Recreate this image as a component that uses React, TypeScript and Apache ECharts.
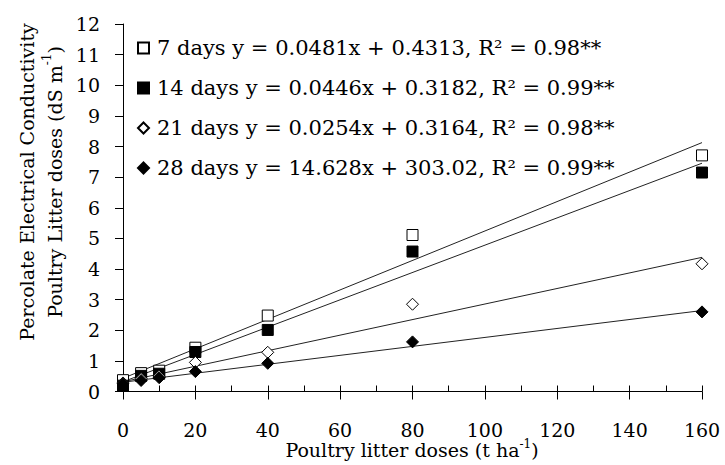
import React, { useEffect, useRef } from "react";
import * as echarts from "echarts";

const xDoses = [0, 5, 10, 20, 40, 80, 160];
const days7 = [0.37, 0.6, 0.68, 1.43, 2.48, 5.11, 7.71];
const days14 = [0.19, 0.51, 0.58, 1.29, 2.01, 4.57, 7.15];
const days21 = [0.28, 0.42, 0.5, 0.95, 1.28, 2.85, 4.17];
const days28 = [0.25, 0.36, 0.45, 0.65, 0.92, 1.62, 2.6];

const seriesNames = [
  "7 days y = 0.0481x + 0.4313, R² = 0.98**",
  "14 days y = 0.0446x + 0.3182, R² = 0.99**",
  "21 days y = 0.0254x + 0.3164, R² = 0.98**",
  "28 days y = 14.628x + 303.02, R² = 0.99**",
];
// trend line coefficients (in dS m-1; 28 days equation printed in uS cm-1)
const slopes = [0.0481, 0.0446, 0.0254, 0.014628];
const intercepts = [0.4313, 0.3182, 0.3164, 0.30302];
const xTicks = [0, 20, 40, 60, 80, 100, 120, 140, 160];
const yTicks = [0, 1, 2, 3, 4, 5, 6, 7, 8, 9, 10, 11, 12];

const FONT = "DejaVu Serif";

export default function App() {
  const ref = useRef<HTMLDivElement>(null);
  useEffect(() => {
    if (!ref.current) return;
    const chart = echarts.init(ref.current, null, { renderer: "svg" });
    const allData = [days7, days14, days21, days28];
    const symbols = ["rect", "rect", "diamond", "diamond"];
    const fills = ["#fff", "#000", "#fff", "#000"];
    const xMin = xTicks[0];
    const xMax = xTicks[xTicks.length - 1];

    const scatterSeries = allData.map((arr, i) => ({
      name: seriesNames[i],
      type: "scatter",
      symbol: symbols[i],
      symbolSize: i < 2 ? 11 : 12,
      itemStyle: { color: fills[i], borderColor: "#000", borderWidth: 1, opacity: 1 },
      data: arr.map((v, j) => [xDoses[j], v]),
      z: 3,
    }));
    const lineSeries = slopes.map((s, i) => ({
      type: "line",
      symbol: "none",
      silent: true,
      lineStyle: { color: "#222", width: 1 },
      data: [
        [xMin, intercepts[i] + s * xMin],
        [xMax, intercepts[i] + s * xMax],
      ],
      z: 2,
    }));

    chart.setOption({
      animation: false,
      backgroundColor: "#fff",
      grid: { left: 123, right: 23, top: 24, bottom: 73.5 },
      legend: {
        orient: "vertical",
        left: 137,
        top: 34,
        padding: 0,
        itemGap: 12,
        itemWidth: 11,
        itemHeight: 11,
        data: seriesNames,
        selectedMode: false,
        textStyle: { fontFamily: FONT, fontSize: 21, color: "#000", lineHeight: 28, padding: [0, 0, 0, 3] },
      },
      xAxis: [
        {
          type: "value",
          min: xMin,
          max: xMax,
          interval: 20,
          axisLine: { show: true, onZero: false, lineStyle: { color: "#000", width: 1 } },
          axisTick: { show: true, length: 8, lineStyle: { color: "#000", width: 1 } },
          axisLabel: { fontFamily: FONT, fontSize: 19, color: "#000", margin: 29 },
          splitLine: { show: false },
        },
        {
          type: "value",
          min: xMin,
          max: xMax,
          interval: 10,
          position: "bottom",
          axisLine: { show: false },
          axisTick: { show: true, inside: true, length: 6, lineStyle: { color: "#000", width: 1 } },
          axisLabel: { show: false },
          splitLine: { show: false },
        },
      ],
      yAxis: {
        type: "value",
        min: yTicks[0],
        max: yTicks[yTicks.length - 1],
        interval: 1,
        axisLine: { show: true, onZero: false, lineStyle: { color: "#000", width: 1 } },
        axisTick: { show: true, length: 8, lineStyle: { color: "#000", width: 1 } },
        axisLabel: { fontFamily: FONT, fontSize: 19, color: "#000", margin: 23 },
        splitLine: { show: false },
      },
      graphic: [
        {
          type: "text",
          x: 41,
          y: 182,
          rotation: Math.PI / 2,
          style: {
            text: "Percolate Electrical Conductivity\nPoultry Litter doses (dS m{s|-1})",
            fontFamily: FONT,
            fontSize: 19,
            lineHeight: 28,
            fill: "#000",
            align: "center",
            verticalAlign: "middle",
            rich: {
              s: { fontFamily: FONT, fontSize: 12, fill: "#000", verticalAlign: "top", lineHeight: 12, padding: [0, 0, 8, 0] },
            },
          },
        },
        {
          type: "text",
          x: 412,
          y: 450,
          style: {
            text: "Poultry litter doses (t ha{s|-1})",
            fontFamily: FONT,
            fontSize: 19,
            lineHeight: 24,
            fill: "#000",
            align: "center",
            verticalAlign: "middle",
            rich: {
              s: { fontFamily: FONT, fontSize: 12, fill: "#000", verticalAlign: "top", lineHeight: 12, padding: [0, 0, 8, 0] },
            },
          },
        },
      ],
      series: [...lineSeries, ...scatterSeries],
    });
    return () => chart.dispose();
  }, []);
  return <div ref={ref} style={{ width: 725, height: 465, position: "absolute", left: 0, top: 0 }} />;
}
